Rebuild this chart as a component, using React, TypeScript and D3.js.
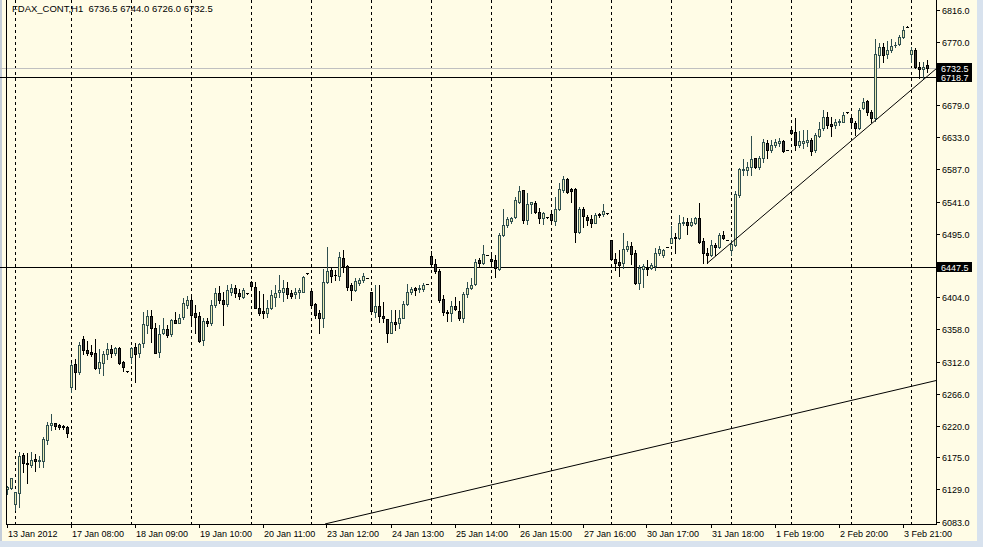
import React from "react";
import * as d3 from "d3";

const title = "FDAX_CONT,H1  6736.5 6744.0 6726.0 6732.5";

const opens = [
6129.1,6131.4,6107.6,6124.2,6177.8,6166.7,6164.3,6172.5,6169.2,6170.0,
6199.7,6220.7,6223.6,6221.1,6219.7,6217.9,6276.0,6308.5,6296.6,6343.8,
6328.5,6325.7,6323.8,6303.2,6310.3,6322.4,6329.5,6324.7,6331.8,6310.9,
6298.0,6317.8,6332.4,6323.8,6338.1,6364.3,6377.2,6359.6,6326.1,6353.3,
6358.6,6351.4,6371.5,6367.6,6375.3,6392.9,6400.1,6381.5,6377.2,6342.8,
6370.0,6367.2,6392.9,6410.1,6400.1,6394.4,6411.6,6417.3,6410.1,6404.8,
6409.7,6425.4,6419.1,6389.1,6384.4,6381.9,6389.1,6404.8,6411.1,6412.0,
6417.7,6410.6,6408.3,6411.1,6412.0,6438.3,6413.0,6393.9,6381.9,6373.9,
6425.4,6443.0,6435.9,6434.9,6460.7,6449.2,6421.6,6414.4,6424.0,6428.7,
6431.2,6411.1,6383.3,6391.5,6377.2,6372.9,6353.3,6369.0,6366.7,6374.8,
6393.9,6412.0,6416.8,6415.8,6415.8,6422.6,6463.5,6451.2,6441.6,6401.1,
6383.3,6381.1,6391.5,6384.8,6373.9,6408.3,6416.8,6422.6,6457.4,6453.5,
6464.5,6458.8,6457.4,6444.1,6493.2,6507.5,6513.6,6518.5,6540.8,6557.6,
6514.6,6537.1,6538.5,6525.6,6517.1,6518.5,6522.8,6513.6,6529.9,6557.6,
6572.9,6558.6,6558.6,6497.9,6529.9,6519.4,6515.6,6510.8,6523.2,6522.8,
6524.2,6486.0,6458.4,6454.5,6453.5,6472.7,6477.4,6467.0,6424.0,6444.1,
6446.3,6445.5,6448.8,6467.8,6464.5,6476.4,6482.1,6490.7,6488.4,6509.9,
6512.2,6507.5,6510.8,6517.9,6484.6,6467.0,6464.5,6478.8,6476.4,6493.2,
6486.0,6471.7,6478.8,6550.4,6586.2,6586.2,6590.9,6603.0,6590.9,6603.0,
6624.4,6614.8,6622.0,6624.4,6627.7,6614.8,6643.5,6640.2,6622.0,6624.4,
6626.7,6629.2,6614.8,6635.3,6645.9,6662.5,6651.6,6650.6,6654.5,6655.4,
6668.8,6661.1,6653.1,6645.9,6674.5,6685.0,6669.7,6661.1,6750.8,6762.7,
6751.8,6758.0,6765.0,6766.2,6777.0,6791.4,6751.8,6758.0,6734.1,6730.8,
6736.5];

const highs = [
6133.8,6145.7,6125.2,6182.9,6181.5,6181.5,6182.1,6179.6,6176.8,6204.4,
6225.0,6236.9,6224.4,6222.6,6220.5,6219.7,6309.5,6315.6,6340.4,6348.6,
6341.4,6335.7,6343.8,6329.5,6326.7,6338.1,6335.7,6333.2,6333.2,6313.2,
6298.5,6333.2,6338.1,6339.0,6382.9,6385.8,6385.8,6366.7,6364.3,6374.3,
6364.3,6372.5,6382.9,6380.0,6403.0,6405.8,6405.8,6392.9,6382.9,6374.3,
6374.3,6400.1,6417.3,6420.1,6411.6,6421.6,6423.0,6421.6,6415.9,6417.7,
6410.0,6427.3,6426.3,6413.0,6408.3,6400.1,6414.4,6421.6,6435.9,6428.7,
6426.3,6414.4,6416.8,6416.8,6434.5,6438.6,6414.4,6395.4,6385.8,6444.5,
6476.4,6445.5,6443.0,6468.4,6471.7,6450.2,6424.0,6431.2,6432.0,6438.3,
6431.5,6411.5,6421.6,6421.6,6397.7,6373.0,6385.8,6385.8,6385.8,6398.7,
6422.6,6419.1,6419.1,6421.6,6424.0,6422.9,6470.2,6458.4,6444.5,6407.3,
6385.8,6398.7,6404.8,6398.7,6411.1,6426.3,6431.2,6458.8,6459.8,6478.8,
6464.8,6464.5,6464.5,6495.6,6529.9,6519.4,6519.4,6547.1,6563.3,6558.0,
6552.9,6541.0,6542.3,6531.4,6526.5,6518.8,6525.1,6548.0,6567.2,6577.6,
6574.3,6560.0,6560.0,6533.7,6533.7,6521.8,6521.8,6525.1,6525.1,6537.5,
6524.5,6486.5,6467.8,6471.7,6496.4,6485.0,6483.6,6471.7,6450.2,6451.6,
6457.4,6452.6,6474.1,6477.4,6472.7,6476.7,6506.0,6496.4,6521.8,6519.4,
6517.1,6517.1,6519.4,6538.5,6489.3,6474.1,6486.0,6481.3,6495.6,6498.9,
6486.3,6486.0,6556.2,6589.5,6602.0,6598.1,6635.3,6603.9,6606.7,6630.6,
6629.2,6629.2,6630.6,6631.6,6629.2,6615.1,6645.9,6661.1,6642.0,6643.5,
6643.5,6631.6,6638.7,6655.4,6672.1,6669.7,6662.5,6659.2,6659.2,6668.8,
6669.1,6665.0,6656.4,6674.5,6688.8,6686.6,6672.1,6773.7,6767.6,6767.6,
6770.9,6773.7,6769.0,6779.4,6792.8,6791.7,6762.7,6760.4,6741.2,6741.2,
6744.0];

const lows = [
6122.4,6130.0,6099.5,6104.2,6154.3,6138.5,6160.6,6155.7,6161.5,6160.6,
6193.5,6214.0,6215.9,6215.0,6215.0,6203.5,6268.8,6273.1,6294.2,6322.4,
6321.4,6319.9,6301.3,6295.2,6292.7,6315.2,6318.1,6321.4,6308.0,6298.5,
6297.5,6310.3,6283.1,6318.1,6333.2,6353.3,6340.4,6324.0,6318.5,6351.0,
6347.6,6348.6,6366.7,6366.7,6372.9,6388.6,6364.3,6352.9,6340.0,6335.7,
6362.9,6364.3,6390.1,6395.8,6364.3,6391.5,6407.3,6404.4,6401.5,6402.5,
6409.4,6417.7,6388.2,6378.6,6373.9,6376.2,6387.2,6391.5,6404.8,6398.7,
6403.4,6403.4,6402.5,6403.4,6411.1,6438.0,6391.9,6373.9,6352.4,6361.9,
6424.0,6426.3,6428.7,6428.7,6439.8,6414.4,6400.1,6413.0,6421.6,6426.3,
6431.0,6383.3,6376.2,6368.2,6368.2,6340.4,6352.4,6357.1,6359.6,6373.9,
6392.9,6408.3,6407.3,6412.0,6413.0,6422.3,6450.2,6439.2,6397.7,6378.6,
6370.0,6370.0,6385.8,6371.5,6369.0,6404.8,6415.8,6421.6,6447.8,6451.2,
6464.2,6446.9,6432.6,6443.0,6491.7,6504.2,6510.8,6517.1,6538.5,6509.9,
6508.9,6524.2,6524.2,6509.9,6508.9,6518.2,6508.5,6507.5,6529.0,6555.1,
6552.9,6541.0,6483.6,6495.6,6505.0,6507.5,6505.0,6509.9,6519.4,6520.8,
6523.9,6457.4,6443.0,6434.5,6445.5,6470.7,6451.6,6423.0,6415.4,6418.3,
6435.9,6444.1,6443.0,6464.5,6461.2,6476.1,6481.3,6467.0,6487.0,6507.5,
6494.2,6506.0,6508.9,6481.3,6452.6,6452.6,6463.5,6464.5,6475.0,6487.4,
6485.7,6464.5,6478.0,6548.0,6579.0,6579.0,6579.0,6588.6,6587.6,6598.1,
6603.9,6612.0,6619.6,6621.0,6612.4,6614.5,6637.3,6614.8,6619.6,6617.3,
6621.0,6607.7,6612.4,6634.0,6643.5,6645.9,6635.3,6646.3,6650.6,6654.5,
6668.5,6650.6,6636.3,6644.9,6673.5,6665.0,6654.5,6656.4,6734.1,6741.2,
6746.1,6755.6,6762.0,6765.2,6774.7,6791.1,6741.2,6731.8,6717.5,6717.5,
6726.0];

const closes = [
6132.8,6144.8,6124.8,6176.8,6166.3,6166.0,6171.0,6170.0,6171.0,6200.7,
6221.1,6223.6,6219.7,6217.9,6217.9,6209.3,6307.0,6297.5,6335.7,6328.5,
6323.8,6322.4,6302.3,6310.9,6322.8,6329.5,6324.7,6331.0,6310.3,6303.8,
6298.0,6331.0,6323.2,6336.7,6365.7,6376.5,6359.6,6324.7,6351.4,6358.6,
6350.0,6371.5,6367.6,6373.9,6395.8,6400.1,6378.6,6375.8,6341.8,6370.0,
6367.2,6392.9,6410.1,6400.1,6394.4,6414.4,6417.3,6410.1,6405.8,6414.4,
6409.7,6420.6,6389.1,6381.9,6381.9,6389.1,6407.3,6409.7,6414.4,6417.7,
6408.3,6406.3,6412.0,6414.4,6433.5,6438.3,6392.9,6378.6,6373.9,6425.4,
6441.6,6434.9,6435.5,6462.1,6449.2,6419.1,6414.4,6427.3,6428.7,6434.5,
6431.2,6384.4,6391.5,6377.2,6373.9,6353.3,6368.2,6366.2,6374.8,6393.9,
6412.0,6415.8,6414.4,6417.7,6421.6,6422.6,6451.2,6441.6,6400.1,6382.5,
6381.1,6391.5,6387.2,6373.9,6408.3,6416.8,6421.6,6454.9,6453.5,6465.5,
6464.5,6456.4,6445.5,6493.2,6507.5,6515.6,6517.1,6543.3,6556.2,6514.6,
6537.5,6540.0,6526.5,6517.1,6524.2,6518.5,6514.6,6529.9,6558.6,6572.9,
6555.1,6556.2,6497.9,6529.9,6520.8,6514.6,6509.9,6521.8,6521.4,6527.5,
6524.2,6458.4,6453.5,6450.2,6472.7,6477.4,6466.0,6424.0,6445.5,6448.8,
6444.1,6450.2,6467.8,6472.7,6471.7,6476.4,6488.4,6488.4,6509.9,6512.2,
6507.5,6512.2,6517.1,6483.6,6467.0,6464.5,6478.8,6476.4,6493.2,6488.4,
6486.0,6479.8,6551.4,6587.6,6587.6,6590.9,6602.0,6590.9,6603.0,6625.9,
6614.8,6622.0,6626.7,6627.7,6613.4,6614.8,6638.7,6622.0,6627.7,6627.7,
6629.2,6613.4,6636.3,6644.9,6662.5,6650.6,6649.7,6655.4,6656.4,6665.0,
6668.8,6654.5,6645.9,6672.1,6683.1,6669.7,6661.1,6751.8,6762.7,6750.8,
6758.0,6764.2,6765.5,6777.0,6786.6,6791.4,6758.0,6734.1,6730.8,6734.1,
6732.5];

const yTickLabels = ["6816.0","6770.0","6679.0","6633.0","6587.0","6541.0","6495.0","6404.0","6358.0","6312.0","6266.0","6220.0","6175.0","6129.0","6083.0"];
const xTickBars = [0,16,32,48,64,80,96,112,128,144,160,176,192,208,224];
const xTickLabels = ["13 Jan 2012","17 Jan 08:00","18 Jan 09:00","19 Jan 10:00","20 Jan 11:00","23 Jan 12:00","24 Jan 13:00","25 Jan 14:00","26 Jan 15:00","27 Jan 16:00","30 Jan 17:00","31 Jan 18:00","1 Feb 19:00","2 Feb 20:00","3 Feb 21:00"];
const gridBars = [2,16,31,46,61,76,91,106,121,136,151,166,181,196,211,226];

const levelPrices = [6718.7, 6447.5];
const bidPrice = 6732.5;
const priceBoxes = [6732.5, 6718.7, 6447.5];

const trendStartBars = [174.9, 79.4];
const trendStartPrices = [6452.6, 6079.5];
const trendEndBars = [232.3, 232.3];
const trendEndPrices = [6731.8, 6285.0];

const FONT = "'Liberation Sans', Arial, sans-serif";

export default function App() {
  const W = 983, H = 547;
  const plotL = 6, plotR = 936.5, plotB = 524.5;
  const x = d3.scaleLinear().domain([0, 230]).range([7.5, 927.5]);
  const y = d3.scaleLinear().domain([6083, 6816]).range([521.5, 9.5]);
  const sy = (p: number) => Math.round(y(p)) + 0.5;

  const bullStroke = "#2F4F4F";
  const bullFill = "#ECECB4";
  const bearFill = "#3A3A3A";

  return (
    <svg width={W} height={H} style={{ position: "absolute", left: 0, top: 0, display: "block" }} shapeRendering="crispEdges">
      <rect x={0} y={0} width={W} height={H} fill="#D8E2EE" />
      <rect x={0} y={0} width={977} height={541} fill="#FFFCE6" />
      <rect x={0} y={0} width={2} height={541} fill="#C4CDD8" />
      <defs>
        <clipPath id="plot">
          <rect x={plotL} y={0} width={plotR - plotL} height={plotB} />
        </clipPath>
      </defs>
      {gridBars.map((b, k) => (
        <line key={"g" + k} x1={x(b)} x2={x(b)} y1={0} y2={plotB} stroke="#000" strokeDasharray="3,3" strokeWidth={1} />
      ))}
      <line x1={0} x2={plotR} y1={sy(bidPrice)} y2={sy(bidPrice)} stroke="#C0C0C0" />
      {levelPrices.map((p, k) => (
        <line key={"l" + k} x1={0} x2={plotR} y1={sy(p)} y2={sy(p)} stroke="#000" />
      ))}
      <g clipPath="url(#plot)">
        {opens.map((o, i) => {
          const c = closes[i];
          const cx = x(i);
          const bull = c > o;
          const yo = sy(o), yc = sy(c);
          const stroke = bull ? bullStroke : "#000";
          const top = Math.min(yo, yc), bot = Math.max(yo, yc);
          return (
            <g key={i}>
              <line x1={cx} x2={cx} y1={sy(highs[i]) - 0.5} y2={sy(lows[i]) + 0.5} stroke={stroke} />
              {bot - top < 1 ? (
                <line x1={cx - 1.5} x2={cx + 1.5} y1={yc} y2={yc} stroke={stroke} />
              ) : (
                <rect x={cx - 1} y={top} width={2} height={bot - top} fill={bull ? bullFill : bearFill} stroke={stroke} />
              )}
            </g>
          );
        })}
        {trendStartBars.map((b, k) => (
          <line key={"t" + k} x1={x(b)} y1={y(trendStartPrices[k])} x2={x(trendEndBars[k])} y2={y(trendEndPrices[k])} stroke="#000" shapeRendering="auto" strokeWidth={1} />
        ))}
      </g>
      <line x1={plotL + 0.5} x2={plotL + 0.5} y1={0} y2={plotB} stroke="#000" />
      <line x1={plotR} x2={plotR} y1={0} y2={plotB} stroke="#000" />
      <line x1={plotL} x2={plotR} y1={plotB} y2={plotB} stroke="#000" />
      {yTickLabels.map((t, k) => {
        const yy = sy(+t);
        return (
          <g key={"y" + k}>
            <line x1={plotR} x2={940} y1={yy} y2={yy} stroke="#000" />
            <text x={942} y={yy + 3.5} fontFamily={FONT} fontSize={9} fill="#000">{t}</text>
          </g>
        );
      })}
      {priceBoxes.map((p, k) => {
        const yy = y(p);
        return (
          <g key={"pb" + k}>
            <rect x={937} y={Math.round(yy - 5)} width={35} height={10} fill="#000" />
            <text x={941} y={Math.round(yy) + 3.5} fontFamily={FONT} fontSize={9} fill="#FFF">{p.toFixed(1)}</text>
          </g>
        );
      })}
      {xTickBars.map((b, k) => {
        const xx = Math.round(x(b)) - 0.5;
        return (
          <g key={"x" + k}>
            <line x1={xx} x2={xx} y1={plotB} y2={528} stroke="#000" />
            <text x={xx + 0.5} y={537} fontFamily={FONT} fontSize={9} fill="#000">{xTickLabels[k]}</text>
          </g>
        );
      })}
      <text x={12} y={11.5} fontFamily={FONT} fontSize={9.5} fill="#000" style={{ whiteSpace: "pre" }}>{title}</text>
    </svg>
  );
}
